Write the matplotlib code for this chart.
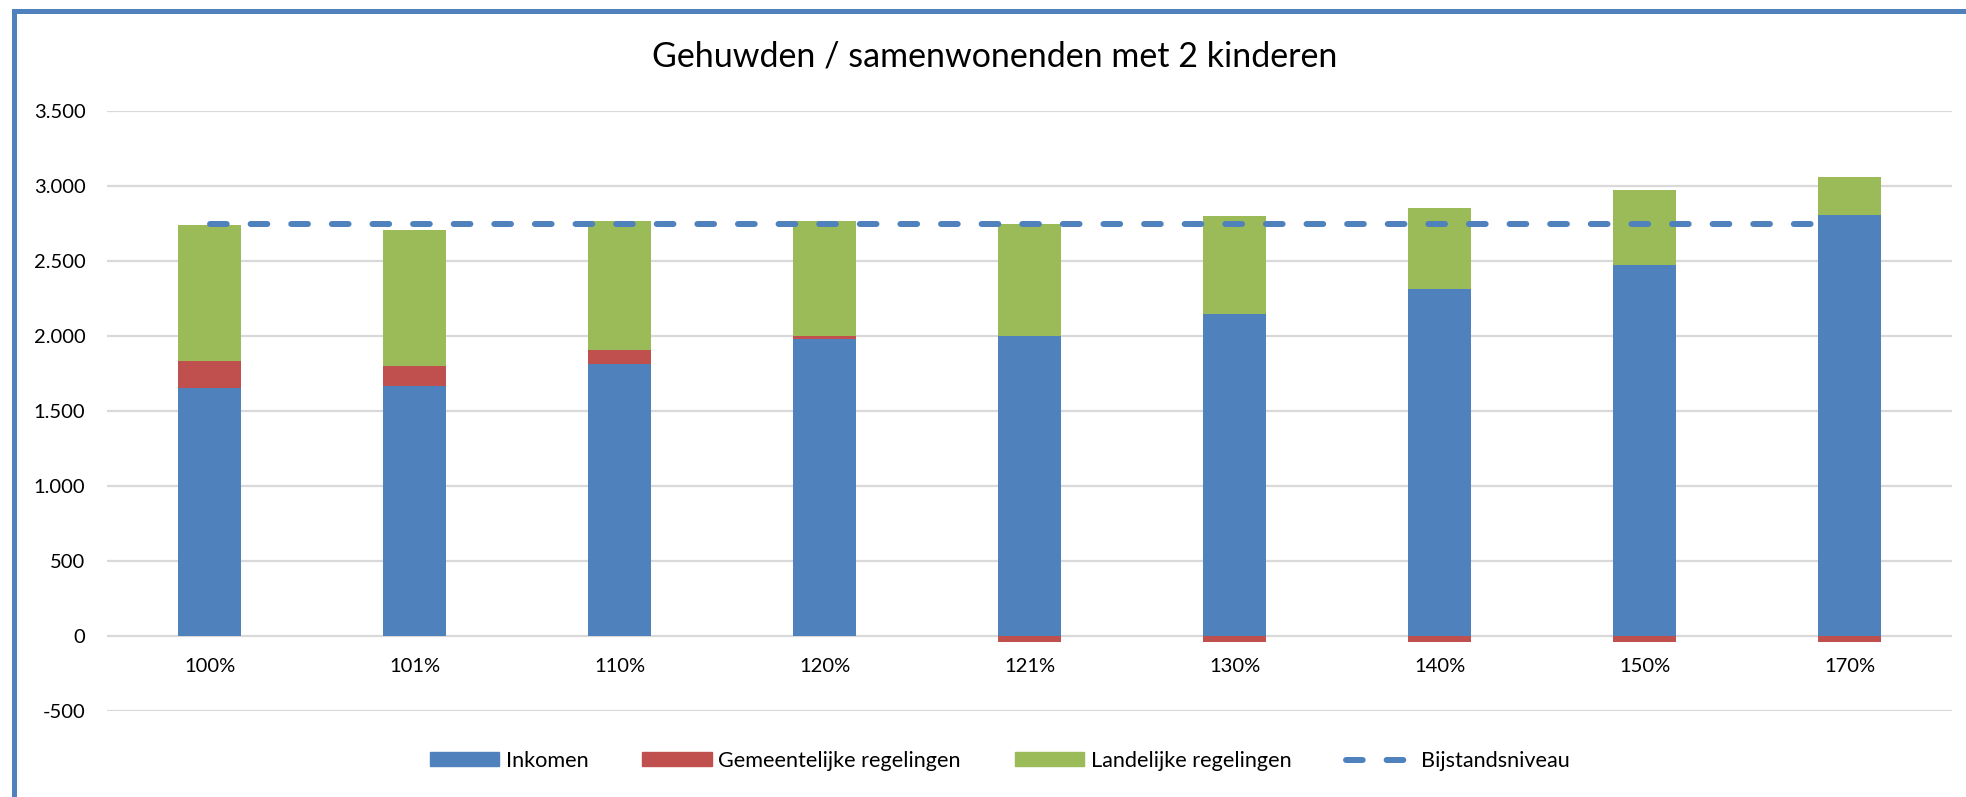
import numpy as np
import matplotlib
matplotlib.use('Agg')
import matplotlib.pyplot as plt
from matplotlib.lines import Line2D
from matplotlib.patches import Patch
from matplotlib.ticker import FuncFormatter

plt.rcParams['font.family'] = ['Lato', 'DejaVu Sans']

# Waarden
categorieen = ['100%', '101%', '110%', '120%', '121%', '130%', '140%', '150%', '170%']
inkomen = [1651, 1662, 1811, 1978, 1996, 2142, 2309, 2471, 2804]
gemeentelijk = [182, 134, 93, 18, -44, -44, -44, -44, -44]
landelijk = [907, 908, 863, 766, 748, 654, 542, 500, 254]
bijstandsniveau = [2745] * len(categorieen)

BLAUW = '#4F81BD'
ROOD = '#C0504D'
GROEN = '#9BBB59'

fig = plt.figure(figsize=(19.66, 7.97), dpi=100)
ax = fig.add_axes([107 / 1966, 1 - 710.7 / 797, (1952 - 107) / 1966, 600 / 797])

x = np.arange(len(categorieen))
breedte = 0.31
ink = np.array(inkomen)
gem = np.array(gemeentelijk)
lan = np.array(landelijk)

# Excel stapelt positieve en negatieve waarden apart
gem_bodem = np.where(gem >= 0, ink, 0)
lan_bodem = ink + np.where(gem > 0, gem, 0)

ax.bar(x, ink, breedte, color=BLAUW, zorder=2)
ax.bar(x, gem, breedte, bottom=gem_bodem, color=ROOD, zorder=2)
ax.bar(x, lan, breedte, bottom=lan_bodem, color=GROEN, zorder=2)
ax.plot(x, bijstandsniveau, color=BLAUW, lw=4.3, linestyle=(0, (2.8, 4.0)),
        dash_capstyle='round', zorder=3)

ax.set_xlim(-0.5, len(categorieen) - 0.5)
ax.set_ylim(-500, 3500)
ax.set_yticks(np.arange(-500, 3501, 500))
ax.yaxis.set_major_formatter(FuncFormatter(lambda v, p: f'{int(v):,}'.replace(',', '.')))
ax.set_xticks(x)
ax.set_xticklabels(categorieen)
# categorie-as ligt op 0, zoals in Excel
ax.spines['bottom'].set_position(('data', 0))
ax.tick_params(axis='y', length=0, pad=15.5, labelsize=14.5)
ax.tick_params(axis='x', length=0, pad=16, labelsize=14.5)
for s in ax.spines.values():
    s.set_visible(False)
ax.grid(axis='y', color='#D9D9D9', lw=1.6, zorder=1)
ax.set_axisbelow(True)

fig.text(995 / 1966, 1 - 56 / 797, 'Gehuwden / samenwonenden met 2 kinderen',
         ha='center', va='center', fontsize=24.5)

handles = [Patch(color=BLAUW), Patch(color=ROOD), Patch(color=GROEN),
           Line2D([], [], color=BLAUW, lw=4.3, linestyle=(0, (2.8, 4.0)), dash_capstyle='round')]
labels = ['Inkomen', 'Gemeentelijke regelingen', 'Landelijke regelingen', 'Bijstandsniveau']
fig.legend(handles, labels, loc='center', bbox_to_anchor=(1000 / 1966, 1 - 761 / 797),
           ncol=4, frameon=False, fontsize=15.6, handlelength=3.2, handleheight=0.6,
           handletextpad=0.3, columnspacing=2.5)

# rand van het grafiekgebied
fig.add_artist(Line2D([13.5 / 1966, 1], [1 - 10.8 / 797, 1 - 10.8 / 797],
                      transform=fig.transFigure, color=BLAUW, lw=3.6))
fig.add_artist(Line2D([13.5 / 1966, 13.5 / 1966], [0, 1 - 10.8 / 797],
                      transform=fig.transFigure, color=BLAUW, lw=3.6))

fig.savefig('out.png', dpi=100, facecolor='white')
